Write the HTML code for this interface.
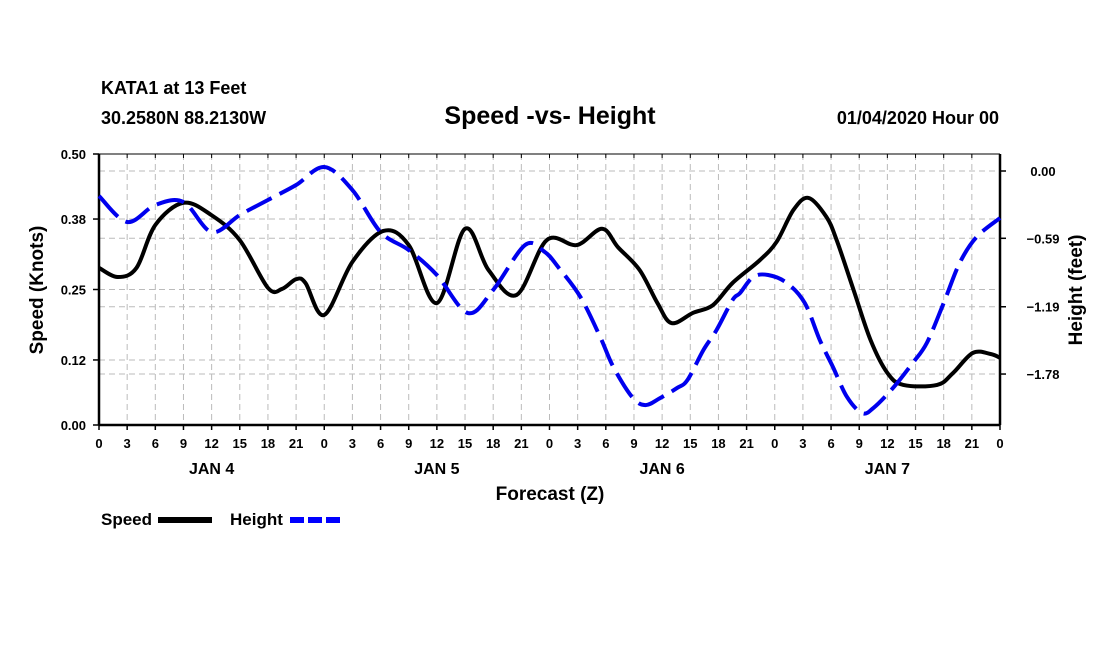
<!DOCTYPE html>
<html><head><meta charset="utf-8"><style>
body{margin:0;background:#fff;}
svg text{font-family:"Liberation Sans",Arial,sans-serif;font-weight:bold;}
</style></head><body>
<svg width="1100" height="650" viewBox="0 0 1100 650" xmlns="http://www.w3.org/2000/svg">
<rect width="1100" height="650" fill="#fff"/>
<text x="101" y="94" font-size="18">KATA1 at 13 Feet</text>
<text x="101" y="124" font-size="18">30.2580N 88.2130W</text>
<text x="550" y="124" font-size="25" text-anchor="middle">Speed -vs- Height</text>
<text x="999" y="124" font-size="18" text-anchor="end">01/04/2020 Hour 00</text>
<g id="grid"></g>
<g id="axes"></g>
<g id="series"></g>
<text transform="translate(43,290) rotate(-90)" font-size="19" text-anchor="middle">Speed (Knots)</text>
<text transform="translate(1082,290) rotate(-90)" font-size="19" text-anchor="middle">Height (feet)</text>
<text x="550" y="500" font-size="19" text-anchor="middle">Forecast (Z)</text>
<g>
<text x="101" y="525" font-size="17">Speed</text>
<line x1="158" y1="520" x2="212" y2="520" stroke="#000" stroke-width="6"/>
</g>
<g>
<text x="230" y="525" font-size="17">Height</text>
<line x1="290" y1="520" x2="342" y2="520" stroke="#00f" stroke-width="6" stroke-dasharray="14 4"/>
</g>
</svg>
<script>
const heightHours=[0,3,6,9,12,15,18,21,24,27,30,33,36,39.3,42,45.4,47.5,49,51.3,53.4,54.8,56.8,58.2,59.8,61.6,62.7,64.4,65.8,67.5,68.3,69.7,71.3,73.3,75.2,76.8,78.2,79.7,81.3,82.5,84.6,86.7,88.2,90,91.7,93.5,96];
const heightValues=[-0.219,-0.447,-0.298,-0.272,-0.535,-0.386,-0.254,-0.123,0.035,-0.167,-0.535,-0.693,-0.912,-1.245,-1.043,-0.649,-0.710,-0.850,-1.105,-1.455,-1.718,-1.981,-2.052,-1.990,-1.902,-1.832,-1.569,-1.394,-1.131,-1.070,-0.929,-0.912,-0.982,-1.157,-1.482,-1.718,-1.981,-2.122,-2.078,-1.902,-1.683,-1.508,-1.157,-0.807,-0.579,-0.412];
const speedHours=[0,2,4,6,9,12,15,18,19.5,21,22,24,27,30.3,33,36,39,41.5,44.5,47.7,50.9,53.6,55.3,57.6,59.5,61,63.3,65.4,67.5,70.4,72.2,74,75.6,77.5,78.6,80.4,82.2,84,85.7,89.3,91,93.1,95,96];
const speedValues=[0.290,0.273,0.290,0.369,0.410,0.387,0.341,0.253,0.251,0.269,0.262,0.203,0.301,0.358,0.332,0.225,0.362,0.286,0.240,0.341,0.332,0.362,0.328,0.286,0.225,0.188,0.207,0.221,0.262,0.304,0.338,0.397,0.419,0.384,0.341,0.249,0.157,0.096,0.074,0.074,0.096,0.133,0.131,0.124];
const leftTicks=[0,0.12,0.25,0.38,0.5];
const leftTickLabels=["0.00","0.12","0.25","0.38","0.50"];
const rightTicks=[0,-0.59,-1.19,-1.78];
const rightTickLabels=["0.00","\u22120.59","\u22121.19","\u22121.78"];
const xTickLabels=["0","3","6","9","12","15","18","21"];
const dayLabels=["JAN 4","JAN 5","JAN 6","JAN 7"];
const NS="http://www.w3.org/2000/svg";
const X0=99,X1=1000,Y0=425,Y1=154;
const xs=h=>X0+(X1-X0)*h/96;
const ys=v=>Y0-(Y0-Y1)*v/0.5;
const yh=v=>171-v*(67.3/0.59);
function mk(tag,attrs,parent,txt){const e=document.createElementNS(NS,tag);for(const k in attrs)e.setAttribute(k,attrs[k]);if(txt!==undefined)e.textContent=txt;parent.appendChild(e);return e;}
const grid=document.getElementById('grid'),axes=document.getElementById('axes'),series=document.getElementById('series');
for(let h=3;h<96;h+=3){const l=mk('line',{x1:xs(h),x2:xs(h),y1:Y1,y2:Y0,stroke:'#bbb','stroke-dasharray':'6 4'},grid);

}
rightTicks.forEach((v,i)=>{const l=mk('line',{x1:X0,x2:X1,y1:yh(v),y2:yh(v),stroke:'#bbb','stroke-dasharray':'6 4'},grid);


mk('line',{x1:X1,x2:X1+6,y1:yh(v),y2:yh(v),stroke:'#000','stroke-width':1.5},axes);
const t=mk('text',{x:1043,y:yh(v)+5,'font-size':13,'text-anchor':'middle'},axes,rightTickLabels[i]);

});
leftTicks.forEach((v,i)=>{if(v>0&&v<0.5){const l=mk('line',{x1:X0,x2:X1,y1:ys(v),y2:ys(v),stroke:'#bbb','stroke-dasharray':'6 4'},grid);

}
mk('line',{x1:X0-6,x2:X0,y1:ys(v),y2:ys(v),stroke:'#000','stroke-width':1.5},axes);
const t=mk('text',{x:X0-13,y:ys(v)+5,'font-size':13,'text-anchor':'end'},axes,leftTickLabels[i]);

});
for(let h=0;h<=96;h+=3){mk('line',{x1:xs(h),x2:xs(h),y1:Y0,y2:Y0+5,stroke:'#000','stroke-width':1.5},axes);
mk('line',{x1:xs(h),x2:xs(h),y1:Y1,y2:Y1+4,stroke:'#000','stroke-width':1},axes);
const t=mk('text',{x:xs(h),y:448,'font-size':13,'text-anchor':'middle'},axes,xTickLabels[(h%24)/3]);

}
dayLabels.forEach((d,i)=>{const t=mk('text',{x:xs(12+24*i),y:474,'font-size':16,'text-anchor':'middle'},axes,d);

});
mk('line',{x1:X0,x2:X1,y1:Y1,y2:Y1,stroke:'#000','stroke-width':1},axes);
mk('line',{x1:X0,x2:X1,y1:Y0,y2:Y0,stroke:'#000','stroke-width':2.5},axes);
mk('line',{x1:X0,x2:X0,y1:Y1,y2:Y0,stroke:'#000','stroke-width':2.5},axes);
mk('line',{x1:X1,x2:X1,y1:Y1,y2:Y0,stroke:'#000','stroke-width':2.5},axes);
function smooth(pts){let d=`M${pts[0][0]},${pts[0][1]}`;for(let i=0;i<pts.length-1;i++){const p0=pts[Math.max(0,i-1)],p1=pts[i],p2=pts[i+1],p3=pts[Math.min(pts.length-1,i+2)];
d+=` C${p1[0]+(p2[0]-p0[0])/6},${p1[1]+(p2[1]-p0[1])/6} ${p2[0]-(p3[0]-p1[0])/6},${p2[1]-(p3[1]-p1[1])/6} ${p2[0]},${p2[1]}`;}return d;}
const sp=mk('path',{d:smooth(speedHours.map((h,i)=>[xs(h),ys(speedValues[i])])),fill:'none',stroke:'#000','stroke-width':4},series);


const hp=mk('path',{d:smooth(heightHours.map((h,i)=>[xs(h),yh(heightValues[i])])),fill:'none',stroke:'#0000ee','stroke-width':4,'stroke-dasharray':'28 9'},series);


</script>
</body></html>
